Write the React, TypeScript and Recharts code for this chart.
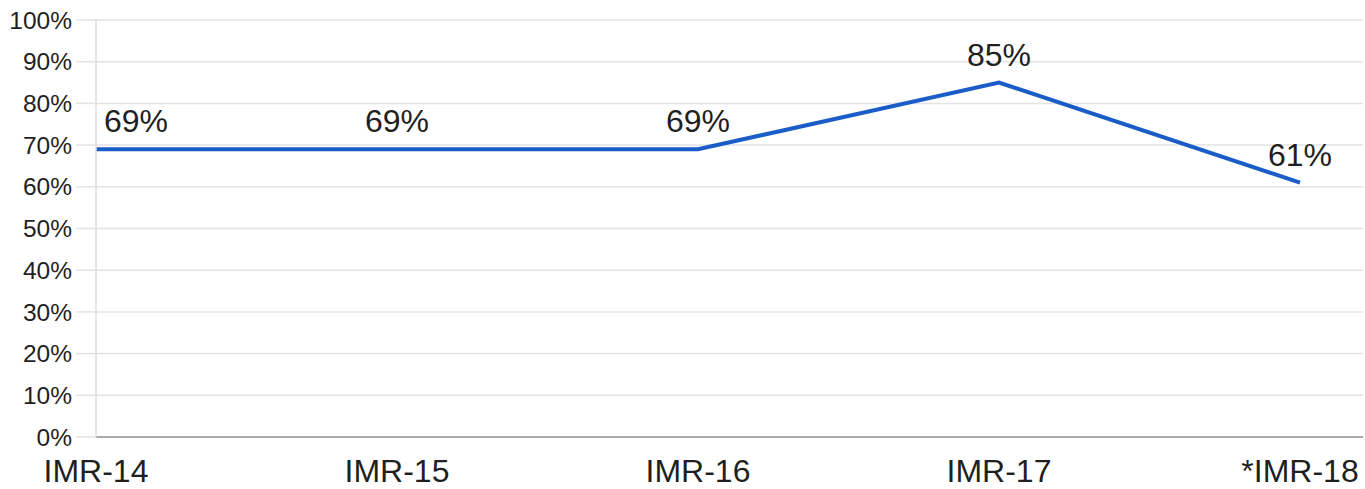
import React from 'react'
import { LineChart, Line, XAxis, YAxis, CartesianGrid, LabelList } from 'recharts'

document.body.style.margin = '0'

const categories = ['IMR-14', 'IMR-15', 'IMR-16', 'IMR-17', '*IMR-18']
const shares = [0.69, 0.69, 0.69, 0.85, 0.61]
const yTicks = [0, 0.1, 0.2, 0.3, 0.4, 0.5, 0.6, 0.7, 0.8, 0.9, 1]

const data = categories.map((name, i) => ({ name, share: shares[i] }))

const FONT = '"Liberation Sans", Arial, sans-serif'

function pct(v: number) {
  return `${Math.round(v * 100)}%`
}

function PointLabel(props: any) {
  const { x, y, value, index } = props
  const first = index === 0
  return (
    <text
      x={first ? x + 8 : x}
      y={y - 17}
      textAnchor={first ? 'start' : 'middle'}
      fontSize={32}
      fontFamily={FONT}
      fill="#1f1f1f"
    >
      {pct(value)}
    </text>
  )
}

export default function App() {
  return (
    <div style={{ width: 1365, height: 489, background: '#fff' }}>
      <LineChart width={1365} height={489} data={data} margin={{ top: 20, right: 2, left: 0, bottom: 0 }}>
        <CartesianGrid vertical={false} stroke="#e3e3e3" strokeWidth={1.5} />
        <XAxis
          dataKey="name"
          height={52}
          padding={{ left: 0, right: 63 }}
          tickLine={false}
          tickSize={0}
          tickMargin={22}
          axisLine={{ stroke: '#ababab', strokeWidth: 2 }}
          tick={{ fontSize: 32, fill: '#1f1f1f', fontFamily: FONT }}
          interval={0}
        />
        <YAxis
          width={96}
          domain={[0, 1]}
          ticks={yTicks}
          tickFormatter={pct}
          tickSize={20}
          tickMargin={4}
          tickLine={{ stroke: '#e3e3e3', strokeWidth: 1.5 }}
          axisLine={{ stroke: '#dcdcdc', strokeWidth: 1.5 }}
          tick={{ fontSize: 24.5, fill: '#1f1f1f', fontFamily: FONT }}
          interval={0}
        />
        <Line
          type="linear"
          dataKey="share"
          stroke="#1a5dc9"
          strokeWidth={4}
          dot={false}
          activeDot={false}
          isAnimationActive={false}
        >
          <LabelList dataKey="share" content={PointLabel} />
        </Line>
      </LineChart>
    </div>
  )
}
